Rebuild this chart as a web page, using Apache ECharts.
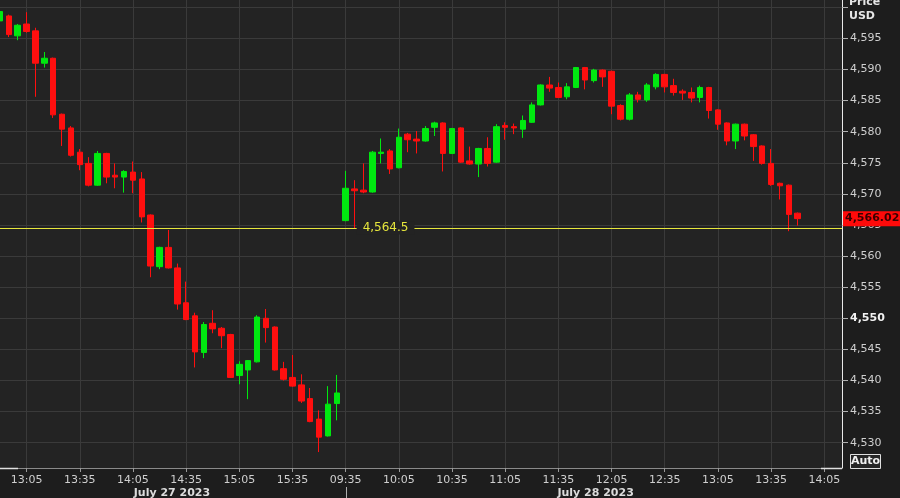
<!DOCTYPE html>
<html><head><meta charset="utf-8">
<script src="https://cdn.jsdelivr.net/npm/echarts@6/dist/echarts.min.js"></script>
<style>html,body{margin:0;padding:0;background:#1d1d1d;overflow:hidden}#c{width:900px;height:498px}</style>
</head><body><div id="c"></div>
<script>
// ---------- DATA ----------
const day1Times = ['12:50','12:55','13:00','13:05','13:10','13:15','13:20','13:25','13:30','13:35','13:40','13:45','13:50','13:55','14:00','14:05','14:10','14:15','14:20','14:25','14:30','14:35','14:40','14:45','14:50','14:55','15:00','15:05','15:10','15:15','15:20','15:25','15:30','15:35','15:40','15:45','15:50','15:55','16:00'];
const day2Times = ['09:35','09:40','09:45','09:50','09:55','10:00','10:05','10:10','10:15','10:20','10:25','10:30','10:35','10:40','10:45','10:50','10:55','11:00','11:05','11:10','11:15','11:20','11:25','11:30','11:35','11:40','11:45','11:50','11:55','12:00','12:05','12:10','12:15','12:20','12:25','12:30','12:35','12:40','12:45','12:50','12:55','13:00','13:05','13:10','13:15','13:20','13:25','13:30','13:35','13:40','13:45','13:50','13:55','14:00','14:05','14:10','14:15'];
const tickLabels = ['13:05','13:35','14:05','14:35','15:05','15:35','09:35','10:05','10:35','11:05','11:35','12:05','12:35'];
const dayDividerTime = '07-28 09:35';
const dateLabels = ['July 27 2023','July 28 2023'];
const dateLabelPos = [19.4, 67.2];

const openP  = [4597.8,4598.6,4595.4,4597.3,4596.2,4591.0,4591.8,4582.8,4580.6,4576.7,4574.9,4571.4,4576.5,4573.0,4572.7,4573.5,4572.4,4566.6,4558.3,4561.4,4558.1,4552.5,4550.4,4544.5,4549.2,4548.4,4547.4,4540.8,4541.7,4543.0,4550.0,4548.6,4541.9,4540.5,4539.3,4537.1,4533.8,4531.1,4536.3,
                4565.7,4570.8,4570.6,4570.3,4576.5,4576.9,4574.2,4579.6,4578.8,4578.5,4580.7,4581.4,4576.5,4580.6,4575.3,4574.8,4577.3,4575.1,4581.0,4580.8,4580.4,4581.5,4584.3,4587.5,4587.1,4585.6,4587.1,4590.3,4588.2,4589.9,4589.7,4584.2,4582.0,4585.9,4585.1,4587.2,4589.2,4587.4,4586.5,4586.3,4585.5,4587.1,4583.5,4581.4,4578.5,4581.2,4579.5,4577.7,4574.9,4571.7,4571.4,4566.9];
const closeP = [4599.3,4595.6,4597.1,4596.1,4591.0,4591.8,4582.7,4580.4,4576.2,4574.7,4571.4,4576.5,4572.7,4572.7,4573.6,4572.2,4566.3,4558.4,4561.4,4558.1,4552.3,4549.8,4544.6,4549.0,4548.3,4547.2,4540.5,4542.6,4543.2,4550.2,4548.5,4541.7,4540.2,4539.1,4536.7,4533.4,4530.9,4536.2,4538.0,
                4570.9,4570.5,4570.3,4576.7,4576.7,4574.0,4579.1,4578.7,4578.5,4580.5,4581.4,4576.5,4580.5,4575.1,4574.8,4577.3,4574.9,4580.8,4580.7,4580.6,4581.8,4584.3,4587.5,4587.0,4585.5,4587.2,4590.3,4588.3,4589.9,4588.8,4584.1,4582.0,4585.9,4585.2,4587.5,4589.2,4587.2,4586.3,4586.2,4585.4,4587.1,4583.4,4581.2,4578.5,4581.2,4579.3,4577.6,4574.9,4571.5,4571.3,4566.7,4566.02];
const lowP   = [4597.5,4595.2,4594.7,4595.9,4585.6,4590.3,4582.2,4577.7,4576.0,4573.8,4571.2,4571.3,4571.7,4570.9,4570.2,4570.1,4565.4,4556.6,4557.9,4558.0,4551.4,4549.7,4542.1,4543.6,4547.6,4545.2,4540.4,4539.4,4537.0,4542.9,4546.1,4541.6,4540.0,4539.0,4536.4,4533.3,4528.5,4531.0,4533.6,
                4565.6,4564.5,4570.1,4570.2,4574.9,4573.2,4574.1,4576.7,4576.5,4578.4,4579.3,4573.6,4576.4,4575.0,4574.7,4572.7,4574.4,4575.0,4578.7,4579.6,4579.0,4581.4,4584.2,4586.4,4585.4,4585.2,4587.0,4586.8,4587.9,4587.2,4582.8,4581.8,4581.8,4584.7,4584.8,4586.8,4586.3,4585.8,4585.1,4584.7,4584.7,4582.1,4580.3,4577.8,4577.2,4578.6,4575.3,4574.7,4571.3,4569.1,4564.0,4564.9];
const highP  = [4599.8,4598.8,4597.3,4599.2,4596.7,4592.8,4591.9,4582.9,4580.9,4577.2,4575.9,4576.9,4576.6,4574.9,4573.8,4575.2,4573.5,4566.7,4561.5,4564.2,4558.8,4555.9,4550.9,4549.4,4551.3,4548.6,4547.5,4543.1,4543.3,4550.5,4551.5,4548.7,4543.0,4544.1,4541.0,4538.8,4535.2,4539.1,4540.9,
                4573.7,4572.2,4574.9,4576.9,4578.9,4577.2,4580.5,4579.8,4580.1,4580.9,4581.6,4581.5,4580.6,4580.7,4577.6,4577.4,4579.1,4581.2,4581.5,4581.3,4582.6,4584.7,4587.6,4588.8,4587.9,4587.8,4590.4,4590.4,4590.1,4590.0,4589.8,4584.4,4586.2,4586.4,4587.8,4589.4,4589.3,4588.5,4586.8,4587.1,4587.4,4587.2,4583.6,4581.5,4581.3,4581.3,4579.6,4577.8,4577.2,4571.8,4571.5,4567.0];
const yTickValues  = [4530,4535,4540,4545,4550,4555,4560,4565,4570,4575,4580,4585,4590,4595,4600];
const yLabelValues = [4530,4535,4540,4545,4550,4555,4560,4565,4570,4575,4580,4585,4590,4595];
const yMin = 4525.94, yMax = 4601.16;
const dayLowLine = 4564.5;
const dayLowLabelPos = 43.5;
const lastPrice = 4566.02;

// ---------- CHART ----------
const categories = day1Times.map(t => '07-27 ' + t).concat(day2Times.map(t => '07-28 ' + t));
const ohlc = openP.map((o, i) => [o, closeP[i], lowP[i], highP[i]]);
const isTick = (i, v) => tickLabels.indexOf(String(v).slice(6)) >= 0;
const fmt = v => { const s = String(v); return s.length > 3 ? s.slice(0, s.length - 3) + ',' + s.slice(s.length - 3) : s; };
const fmtPrice = (v, d) => { const p = v.toFixed(d).split('.'); return fmt(p[0]) + '.' + p[1]; };
const FONT = "'DejaVu Sans', sans-serif";
const TXT = '#cfcfcf';

const chart = echarts.init(document.getElementById('c'), null, {renderer: 'canvas'});
chart.setOption({
  backgroundColor: '#1d1d1d',
  animation: false,
  grid: {left: 0, right: 58, top: 0, bottom: 30, show: true, backgroundColor: '#232323', borderWidth: 0},
  xAxis: {
    type: 'category', data: categories, boundaryGap: false,
    axisLine: {show: true, lineStyle: {color: '#8a8a8a', width: 1}},
    axisTick: {show: true, interval: isTick, length: 4, lineStyle: {color: '#9a9a9a'}},
    axisLabel: {show: true, interval: isTick, color: TXT, fontSize: 11, fontFamily: FONT, margin: 7,
      formatter: v => String(v).slice(6), hideOverlap: false},
    splitLine: {show: true, interval: isTick, lineStyle: {color: '#3a3a3a', width: 1}}
  },
  yAxis: {
    type: 'value', position: 'right', min: yMin, max: yMax, scale: true,
    axisLine: {show: true, lineStyle: {color: '#e8e8e8', width: 1}},
    axisTick: {show: true, customValues: yTickValues, length: 6, lineStyle: {color: '#b0b0b0'}},
    axisLabel: {show: true, customValues: yLabelValues, color: TXT, fontSize: 11, fontFamily: FONT, margin: 8,
      formatter: v => v === 4550 ? '{b|' + fmt(v) + '}' : fmt(v),
      rich: {b: {color: '#f2f2f2', fontWeight: 'bold', fontSize: 11, fontFamily: FONT}}},
    splitLine: {show: true, lineStyle: {color: '#3a3a3a', width: 1}}
  },
  series: [{
    type: 'candlestick', data: ohlc, barWidth: 6,
    itemStyle: {color: '#00e810', color0: '#ff0f0f', borderColor: '#00e810', borderColor0: '#ff0f0f', borderWidth: 1},
    markLine: {
      silent: true, symbol: ['none', 'none'], animation: false,
      lineStyle: {color: '#e6e63c', width: 1, type: 'solid'},
      label: {show: false},
      data: [{yAxis: dayLowLine}]
    }
  }]
});

// ---------- ANNOTATIONS (positions from the axes) ----------
const px = i => chart.convertToPixel({xAxisIndex: 0}, i);
const py = v => chart.convertToPixel({yAxisIndex: 0}, v);
const x0 = px(0), x1 = px(1), step = x1 - x0;
const gridRect = chart.getModel().getComponent('grid').coordinateSystem.getRect();
const axisY = gridRect.y + gridRect.height;
const axisX = gridRect.x + gridRect.width;
const divX = Math.round(px(categories.indexOf(dayDividerTime))) + 0.5;
const tagY = py(lastPrice);
const lowY = py(dayLowLine);
const graphics = [
  {type: 'text', x: x0 + dayLowLabelPos * step, y: lowY,
    style: {text: fmtPrice(dayLowLine, 1), fill: '#e6e63c', font: '12px ' + FONT, align: 'center', verticalAlign: 'middle',
      backgroundColor: '#232323', padding: [1, 6, 0, 6]}, z: 40},
  {type: 'line', shape: {x1: divX, y1: axisY + 19, x2: divX, y2: 498}, style: {stroke: '#b0b0b0', lineWidth: 1}, z: 50},
  {type: 'line', shape: {x1: 0, y1: axisY + 0.5, x2: 18, y2: axisY + 0.5}, style: {stroke: '#e0e0e0', lineWidth: 1.5}, z: 50},
  {type: 'line', shape: {x1: axisX - 21, y1: axisY + 0.5, x2: axisX, y2: axisY + 0.5}, style: {stroke: '#e0e0e0', lineWidth: 1.5}, z: 50},
  {type: 'text', x: axisX + 7, y: -3, style: {text: 'Price', fill: '#e6e6e6', font: 'bold 11px ' + FONT}, z: 50},
  {type: 'text', x: axisX + 7, y: 11, style: {text: 'USD', fill: '#e6e6e6', font: 'bold 11px ' + FONT}, z: 50},
  {type: 'rect', shape: {x: axisX + 1, y: tagY - 7.5, width: 900 - axisX - 1, height: 15}, style: {fill: '#ff0a0a'}, z: 60},
  {type: 'text', x: axisX + 3, y: tagY, style: {text: fmtPrice(lastPrice, 2), fill: '#3a0000', font: 'bold 11px ' + FONT, verticalAlign: 'middle'}, z: 61},
  {type: 'rect', shape: {x: axisX + 8.5, y: axisY - 13.5, width: 30, height: 14}, style: {fill: '#262626', stroke: '#e0e0e0', lineWidth: 1}, z: 60},
  {type: 'text', x: axisX + 23.5, y: axisY - 6.5, style: {text: 'Auto', fill: '#f0f0f0', font: 'bold 11px ' + FONT, align: 'center', verticalAlign: 'middle'}, z: 61}
];
dateLabels.forEach((t, k) => {
  graphics.push({type: 'text', x: x0 + dateLabelPos[k] * step, y: axisY + 20,
    style: {text: t, fill: '#dcdcdc', font: 'bold 11px ' + FONT, align: 'center'}, z: 50});
});
chart.setOption({graphic: graphics});
</script>
</body></html>
